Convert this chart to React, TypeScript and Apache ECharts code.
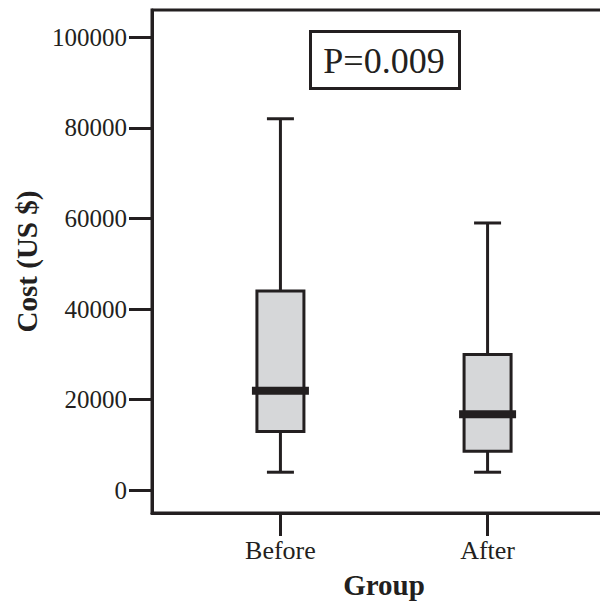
import React, { useEffect, useRef } from "react";
import * as echarts from "echarts";

const groups = ["Before", "After"];
const whiskerLow = [4000, 4000];
const q1 = [13000, 8600];
const median = [22000, 16800];
const q3 = [44000, 30000];
const whiskerHigh = [82000, 59000];
const yTicks = [0, 20000, 40000, 60000, 80000, 100000];
const pValueLabel = "P=0.009";

const INK = "#231f20";
const FONT = "'Liberation Serif', 'Times New Roman', serif";

export default function App() {
  const ref = useRef<HTMLDivElement>(null);
  useEffect(() => {
    if (!ref.current) return;
    const chart = echarts.init(ref.current, undefined, { renderer: "svg" });
    const data = groups.map((g, i) => [i + 1, whiskerLow[i], q1[i], median[i], q3[i], whiskerHigh[i]]);
    const option: any = {
      animation: false,
      backgroundColor: "#ffffff",
      grid: {
        left: 152,
        right: 4,
        top: 10,
        bottom: 87,
        show: true,
        borderColor: INK,
        borderWidth: 3,
        backgroundColor: "transparent",
      },
      xAxis: {
        type: "value",
        min: 0.38,
        max: 2.62,
        name: "Group",
        nameLocation: "middle",
        nameGap: 57,
        nameTextStyle: { fontFamily: FONT, fontSize: 29, fontWeight: "bold", color: INK },
        splitLine: { show: false },
        axisLine: { show: true, onZero: false, lineStyle: { color: INK, width: 3 } },
        axisTick: { show: true, customValues: [1, 2], length: 23, lineStyle: { color: INK, width: 3 } },
        axisLabel: {
          customValues: [1, 2],
          formatter: (v: number) => groups[Math.round(v) - 1] || "",
          fontFamily: FONT,
          fontSize: 26,
          color: INK,
          margin: 24,
        },
      },
      yAxis: {
        type: "value",
        min: -5000,
        max: 106000,
        name: "Cost (US $)",
        nameLocation: "middle",
        nameGap: 100,
        nameTextStyle: { fontFamily: FONT, fontSize: 29, fontWeight: "bold", color: INK },
        splitLine: { show: false },
        axisLine: { show: true, onZero: false, lineStyle: { color: INK, width: 3 } },
        axisTick: { show: true, customValues: yTicks, length: 23, lineStyle: { color: INK, width: 3 } },
        axisLabel: {
          customValues: yTicks,
          formatter: (v: number) => String(v),
          fontFamily: FONT,
          fontSize: 25,
          color: INK,
          margin: 25,
        },
      },
      graphic: [
        {
          type: "rect",
          shape: { x: 310.5, y: 31.5, width: 149, height: 57 },
          style: { fill: "#ffffff", stroke: INK, lineWidth: 3 },
          z: 10,
        },
        {
          type: "text",
          x: 384,
          y: 61,
          style: {
            text: pValueLabel,
            fontFamily: FONT,
            fontSize: 36,
            fill: INK,
            align: "center",
            verticalAlign: "middle",
          },
          z: 11,
        },
      ],
      series: [
        {
          type: "custom",
          encode: { x: 0, y: [1, 2, 3, 4, 5] },
          data,
          renderItem: (params: any, api: any) => {
            const x = api.value(0);
            const pMin = api.coord([x, api.value(1)]);
            const pQ1 = api.coord([x, api.value(2)]);
            const pMed = api.coord([x, api.value(3)]);
            const pQ3 = api.coord([x, api.value(4)]);
            const pMax = api.coord([x, api.value(5)]);
            const cx = pMin[0];
            const boxW = 47;
            const capW = 27;
            const medW = 57;
            const lineStyle = { stroke: INK, lineWidth: 3 };
            return {
              type: "group",
              children: [
                { type: "line", shape: { x1: cx, y1: pMax[1], x2: cx, y2: pQ3[1] }, style: lineStyle },
                { type: "line", shape: { x1: cx, y1: pQ1[1], x2: cx, y2: pMin[1] }, style: lineStyle },
                { type: "line", shape: { x1: cx - capW / 2, y1: pMax[1], x2: cx + capW / 2, y2: pMax[1] }, style: lineStyle },
                { type: "line", shape: { x1: cx - capW / 2, y1: pMin[1], x2: cx + capW / 2, y2: pMin[1] }, style: lineStyle },
                {
                  type: "rect",
                  shape: { x: cx - boxW / 2, y: pQ3[1], width: boxW, height: pQ1[1] - pQ3[1] },
                  style: { fill: "#d6d7d9", stroke: INK, lineWidth: 3 },
                },
                {
                  type: "line",
                  shape: { x1: cx - medW / 2, y1: pMed[1], x2: cx + medW / 2, y2: pMed[1] },
                  style: { stroke: INK, lineWidth: 8 },
                },
              ],
            };
          },
        },
      ],
    };
    chart.setOption(option);
    return () => chart.dispose();
  }, []);
  return (
    <div style={{ position: "absolute", left: 0, top: 0, width: 600, height: 604, overflow: "hidden" }}>
      <div ref={ref} style={{ width: 620, height: 604 }} />
    </div>
  );
}
